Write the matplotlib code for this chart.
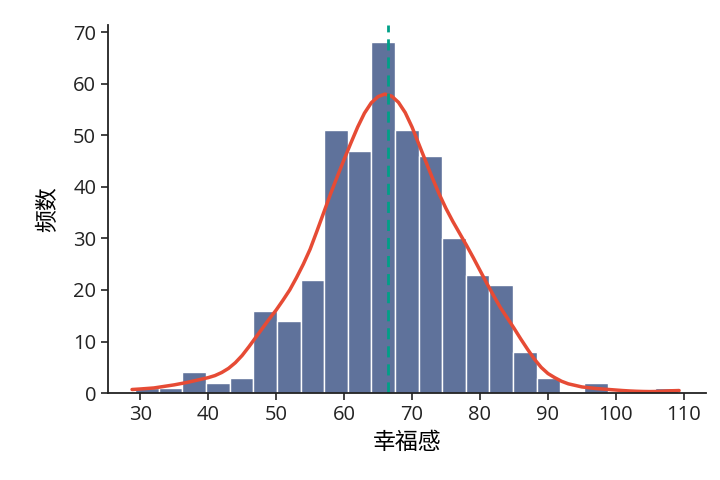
import numpy as np
import matplotlib
matplotlib.use('Agg')
import matplotlib.pyplot as plt

plt.rcParams['font.family'] = ['Open Sans', 'Noto Sans CJK SC', 'DejaVu Sans']
plt.rcParams['axes.unicode_minus'] = False

# 直方图: 幸福感得分分布
bin_lo, bin_hi = 29.26, 109.2
counts = [1, 1, 4, 2, 3, 16, 14, 22, 51, 47, 68, 51, 46, 30, 23, 21, 8, 3, 0, 2, 0, 0, 1]
mean_value = 66.4

# 核密度曲线 (按频数尺度读取)
kde_x = [28.8, 30, 31, 32, 33, 34, 35, 36, 37, 38, 39, 40, 41, 42, 43, 44, 45, 46,
         47, 48, 49, 50, 51, 52, 53, 54, 55, 56, 57, 58, 59, 60, 61, 62, 63, 64,
         65, 66, 67, 68, 69, 70, 71, 72, 73, 74, 75, 76, 77, 78, 79, 80, 81, 82,
         83, 84, 85, 86, 87, 88, 89, 90, 91, 92, 93, 94, 95, 96, 97, 98, 99, 100,
         101, 102, 103, 104, 105, 106, 107, 108, 109.3]
kde_y = [0.7, 0.8, 0.9, 1.0, 1.2, 1.4, 1.6, 1.85, 2.1, 2.4, 2.7, 3.0, 3.4, 4.0,
         4.8, 5.9, 7.3, 9.0, 10.8, 12.6, 14.4, 16.1, 18.0, 20.0, 22.4, 25.0, 27.9,
         31.4, 35.0, 38.6, 42.0, 45.3, 48.5, 51.6, 54.3, 56.3, 57.5, 58.0, 57.6,
         56.4, 54.4, 51.6, 48.3, 45.0, 41.7, 38.6, 35.8, 33.3, 31.0, 28.7, 26.3,
         23.8, 21.3, 18.9, 16.6, 14.6, 12.6, 10.5, 8.5, 6.6, 5.0, 3.8, 3.0, 2.3,
         1.8, 1.5, 1.2, 1.05, 0.9, 0.8, 0.7, 0.6, 0.5, 0.42, 0.36, 0.32, 0.3,
         0.32, 0.38, 0.45, 0.5]

edges = np.linspace(bin_lo, bin_hi, len(counts) + 1)
width = edges[1] - edges[0]

fig = plt.figure(figsize=(7.2, 4.8), dpi=100)
ax = fig.add_axes([0.15, 0.181, 0.83, 0.767])

ax.bar(edges[:-1], counts, width=width, align='edge',
       color='#5F729B', edgecolor='white', linewidth=1.0)
ax.plot(kde_x, kde_y, color='#E64B35', linewidth=2.5, solid_capstyle='round')
ax.axvline(mean_value, color='#00A087', linestyle=(0, (4, 2.5)), linewidth=2.0)

span = bin_hi - bin_lo
ax.set_xlim(bin_lo - 0.05 * span, bin_hi + 0.05 * span)
ax.set_ylim(0, max(counts) * 1.05)
ax.set_xticks(np.arange(30, 111, 10))
ax.set_yticks(np.arange(0, 71, 10))

ax.set_xlabel('幸福感', fontsize=16.5, labelpad=4)
ax.set_ylabel('频数', fontsize=16.5, labelpad=9)
ax.tick_params(labelsize=14.5, width=1.2, length=5, colors='#222222')

for s in ['top', 'right']:
    ax.spines[s].set_visible(False)
for s in ['left', 'bottom']:
    ax.spines[s].set_linewidth(1.3)
    ax.spines[s].set_color('#222222')

fig.savefig('out.png', dpi=100)
